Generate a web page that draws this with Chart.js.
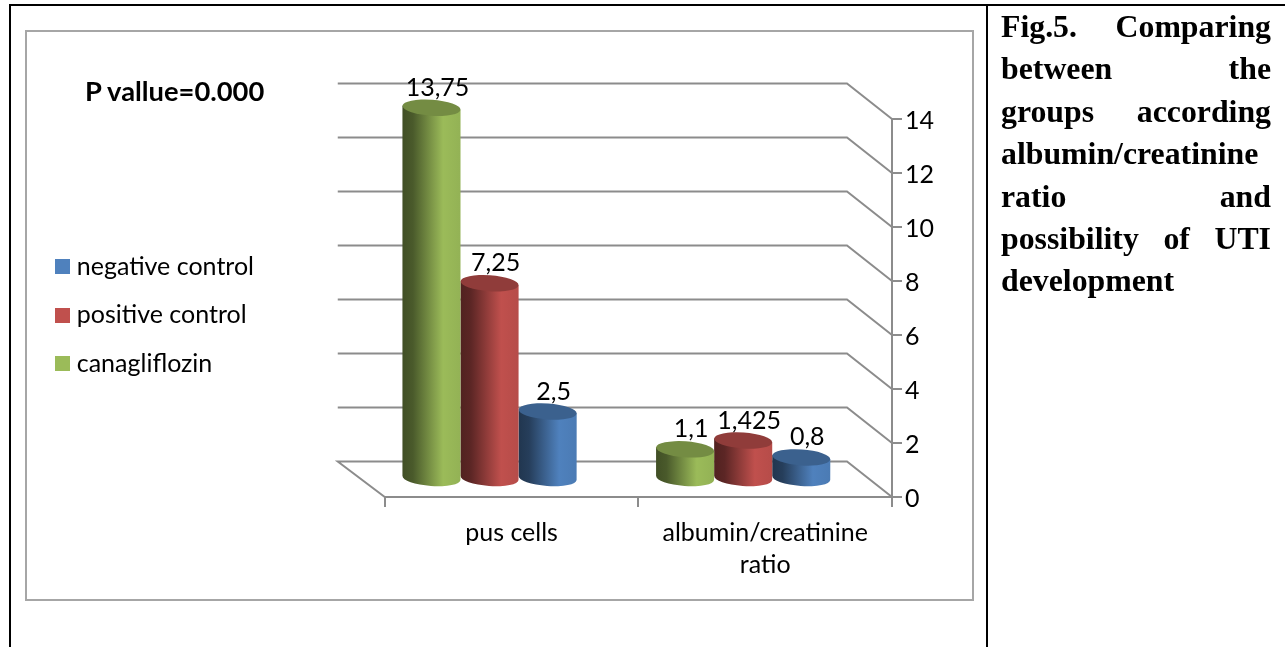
<!DOCTYPE html>
<html><head><meta charset="utf-8">
<script src="https://cdn.jsdelivr.net/npm/chart.js@4/dist/chart.umd.min.js"></script>
<style>
html,body{margin:0;padding:0;background:#fff;width:1285px;height:647px;overflow:hidden}
.b{position:absolute;background:#000}
#box{position:absolute;left:25px;top:30px;width:945px;height:567px;border:2px solid #a6a6a6;box-sizing:content-box}
#c{position:absolute;left:0;top:0}
#pv{position:absolute;left:85px;top:74px;font:bold 27.3px Lato,sans-serif;color:#000;white-space:nowrap}
#cap{position:absolute;left:1001px;top:6px;width:270px;font:bold 31.8px/42.4px "Liberation Serif",serif;color:#000}
#cap div{text-align:justify;text-align-last:justify;white-space:nowrap}
#cap div.l{text-align-last:left}
</style></head><body>
<div class="b" style="left:9px;top:4px;width:1276px;height:2px"></div>
<div class="b" style="left:9px;top:4px;width:2px;height:643px"></div>
<div class="b" style="left:986px;top:4px;width:2px;height:643px"></div>
<div id="box"></div>
<canvas id="c" width="1285" height="647"></canvas>
<div id="pv">P vallue=0.000</div>
<div id="cap">
<div>Fig.5. Comparing</div><div>between the</div><div>groups according</div>
<div class="l">albumin/creatinine</div><div>ratio and</div><div>possibility of UTI</div><div class="l">development</div>
</div>
<script>
const categories = ['pus cells', ['albumin/creatinine', 'ratio']];
const canagliflozin = [13.75, 1.1];
const positiveControl = [7.25, 1.425];
const negativeControl = [2.5, 0.8];
const yTicks = [0, 2, 4, 6, 8, 10, 12, 14];
const FONT = 'Lato';
const GRID = '#8c8c8c';

function shade(hex, f) {
  const n = parseInt(hex.slice(1), 16);
  const c = s => Math.round(((n >> s) & 255) * f);
  return `rgb(${c(16)},${c(8)},${c(0)})`;
}

// Cylinder look for the library's own bar elements
const DX = -22, DY = -18, TILT = 0.07, RY = 8;
Chart.BarElement.prototype.draw = function (ctx) {
  const { x, y, base, width } = this.getProps(['x', 'y', 'base', 'width']);
  const col = this.options.backgroundColor;
  const cx = x + DX, top = y + DY, bot = base + DY, rx = width / 2;
  const g = ctx.createLinearGradient(cx - rx, 0, cx + rx, 0);
  g.addColorStop(0, shade(col, 0.42));
  g.addColorStop(0.18, shade(col, 0.48));
  g.addColorStop(0.7, shade(col, 1));
  g.addColorStop(1, shade(col, 0.95));
  ctx.save();
  ctx.fillStyle = g;
  ctx.beginPath();
  ctx.moveTo(cx - rx, top - 2);
  ctx.lineTo(cx - rx, bot - 2);
  ctx.ellipse(cx, bot, rx, RY, TILT, Math.PI, 0, true);
  ctx.lineTo(cx + rx, top + 2);
  ctx.closePath();
  ctx.fill();
  ctx.fillStyle = shade(col, 0.75);
  ctx.beginPath();
  ctx.ellipse(cx, top, rx, RY, TILT, 0, Math.PI * 2);
  ctx.fill();
  ctx.restore();
};

const wall = {
  id: 'wall',
  beforeDatasetsDraw(chart) {
    const { ctx, chartArea: a, scales: { y } } = chart;
    ctx.save();
    ctx.strokeStyle = GRID;
    ctx.lineWidth = 2;
    yTicks.forEach(v => {
      const py = y.getPixelForValue(v);
      ctx.beginPath();
      ctx.moveTo(a.right, py);
      ctx.lineTo(a.right - 45, py - 35.5);
      ctx.lineTo(a.left - 47, py - 35.5);
      if (v === 0) ctx.lineTo(a.left, py);
      ctx.stroke();
    });
    ctx.restore();
  }
};

const valueLabels = {
  id: 'valueLabels',
  afterDatasetsDraw(chart) {
    const { ctx } = chart;
    ctx.save();
    ctx.fillStyle = '#000';
    ctx.font = `25px ${FONT}`;
    ctx.textAlign = 'center';
    ctx.textBaseline = 'middle';
    chart.data.datasets.forEach((ds, i) => {
      chart.getDatasetMeta(i).data.forEach((bar, j) => {
        const t = String(ds.data[j]).replace('.', ',');
        ctx.fillText(t, bar.x + DX + 6, bar.y + DY - 20);
      });
    });
    ctx.restore();
  }
};

const legendShift = {
  id: 'legendShift',
  afterLayout(chart) {
    const l = chart.legend;
    l.left -= 120.75; l.right -= 120.75;
    l.top -= 68; l.bottom -= 68;
  }
};

function swatch(col) {
  const s = document.createElement('canvas');
  s.width = 15; s.height = 15;
  const c = s.getContext('2d');
  c.fillStyle = col; c.fillRect(0, 0, 15, 15);
  return s;
}

new Chart(document.getElementById('c'), {
  type: 'bar',
  data: {
    labels: categories,
    datasets: [
      { label: 'canagliflozin', data: canagliflozin, backgroundColor: '#9bbb59' },
      { label: 'positive control', data: positiveControl, backgroundColor: '#c0504d' },
      { label: 'negative control', data: negativeControl, backgroundColor: '#4f81bd' }
    ]
  },
  options: {
    responsive: false,
    animation: false,
    layout: { padding: { left: 157.5, top: 119, right: 0, bottom: 0 } },
    datasets: { bar: { barPercentage: 1, categoryPercentage: 0.687, clip: false } },
    plugins: {
      title: { display: false },
      tooltip: { enabled: false },
      legend: {
        position: 'left',
        reverse: true,
        labels: {
          color: '#000',
          font: { family: FONT, size: 25 },
          padding: 23.5,
          usePointStyle: true,
          pointStyleWidth: 4,
          boxHeight: 15,
          generateLabels(chart) {
            return Chart.defaults.plugins.legend.labels.generateLabels(chart).map(l => {
              l.pointStyle = swatch(l.fillStyle);
              return l;
            });
          }
        }
      }
    },
    scales: {
      x: {
        afterFit(s) { s.height = 150; },
        border: { color: GRID, width: 2 },
        grid: { drawOnChartArea: false, drawTicks: true, tickLength: 10, color: GRID, lineWidth: 2, offset: true },
        ticks: { color: '#000', font: { family: FONT, size: 25, lineHeight: 1.28 }, padding: 10, maxRotation: 0, autoSkip: false }
      },
      y: {
        position: 'right',
        min: 0, max: 14,
        afterFit(s) { s.width = 393; },
        afterBuildTicks(s) { s.ticks = yTicks.map(v => ({ value: v })); },
        border: { color: GRID, width: 2 },
        grid: { drawOnChartArea: false, drawTicks: true, tickLength: 10, color: GRID, lineWidth: 2 },
        ticks: { color: '#000', font: { family: FONT, size: 25 }, padding: 3, labelOffset: 2 }
      }
    }
  },
  plugins: [wall, valueLabels, legendShift]
});
</script>
</body></html>
